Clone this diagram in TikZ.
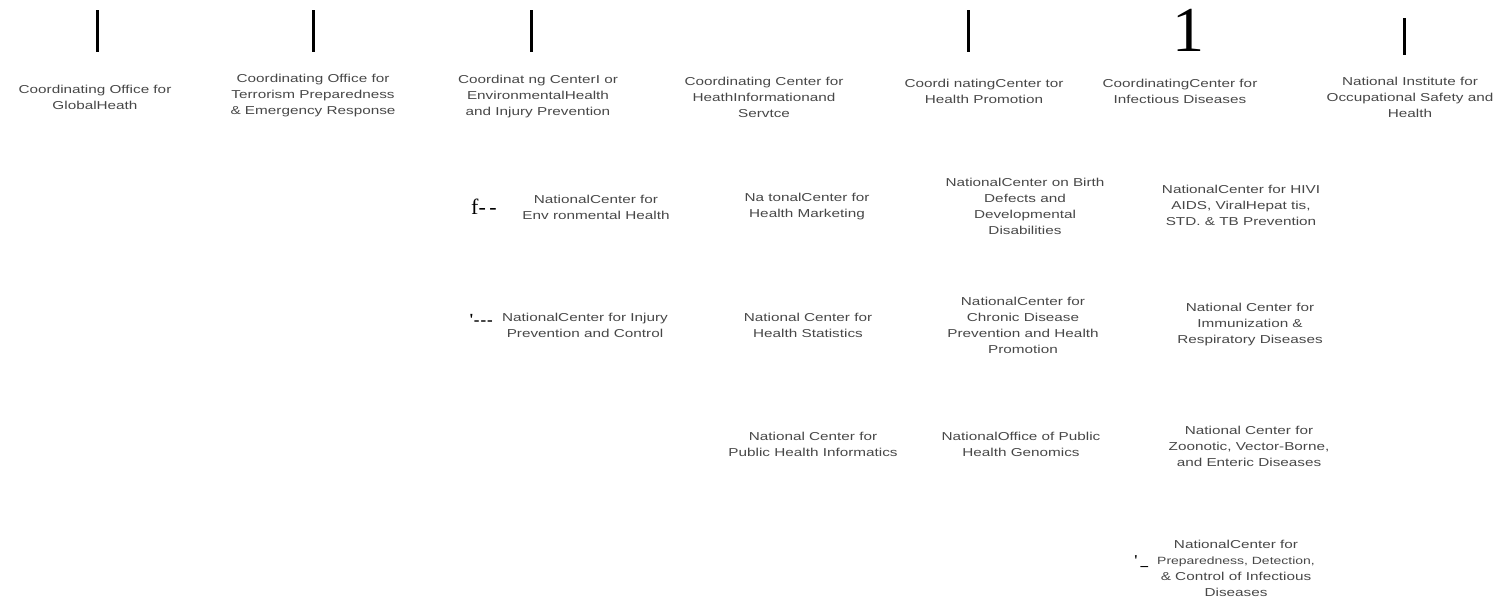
\documentclass[tikz,border=0pt]{standalone}
\usepackage{fontspec}
\newfontfamily\orgfont[FakeStretch=1.33]{Liberation Sans}
\newfontfamily\scanfont{Liberation Serif}

\begin{document}
\begin{tikzpicture}[x=1pt,y=-1pt,
    unit/.style={align=center,inner sep=0pt,text=black!72,
      font=\orgfont\fontsize{11.5}{16}\selectfont},
    bar/.style={fill=black,inner sep=0pt,minimum width=3pt},
    scan/.style={inner sep=0pt,font=\scanfont\fontsize{22}{22}\selectfont}]
  \useasboundingbox (0,0) rectangle (1495,599);
  \path
    (97,31) node[bar,minimum height=42pt] (bar1) {}
    (313,31) node[bar,minimum height=42pt] (bar2) {}
    (531,31) node[bar,minimum height=42pt] (bar3) {}
    (968,31) node[bar,minimum height=42pt] (bar4) {}
    (1188,30) node[scan,font=\scanfont\fontsize{64}{64}\selectfont] (bar5) {1}
    (1404,37) node[bar,minimum height=37pt] (bar6) {};
  \path
    (95,97) node[unit] (cogh) {Coordinating Office for\\GlobalHeath}
    (313,96) node[unit] (cotper) {Coordinating Office for\\Terrorism  Preparedness\\\& Emergency Response}
    (538,97) node[unit] (ccehip) {Coordinat ng CenterI or\\EnvironmentalHealth\\and  Injury Prevention}
    (764,97) node[unit] (cchis) {Coordinating Center for\\HeathInformationand\\Servtce}
    (984,91) node[unit] (cchp) {Coordi natingCenter tor\\Health Promotion}
    (1180,91) node[unit] (ccid) {CoordinatingCenter for\\Infectious Diseases}
    (1410,97) node[unit] (niosh) {National Institute for\\Occupational Safety and\\Health};
  \path
    (484,207) node[scan] (ehmark) {f-\,-}
    (596,207) node[unit] (nceh) {NationalCenter for\\Env  ronmental Health}
    (807,207) node[unit] (nchm) {Na tonalCenter for\\Health Marketing}
    (1025,206) node[unit] (ncbddd) {NationalCenter on Birth\\Defects and\\Developmental\\Disabilities}
    (1241,205) node[unit] (nchhstp) {NationalCenter for HIVI\\AIDS, ViralHepat tis,\\STD. \& TB  Prevention};
  \path
    (481,320) node[scan,font=\scanfont\bfseries\fontsize{17}{17}\selectfont] (ipmark) {'-\kern1pt-\kern1pt-}
    (585,325) node[unit] (ncipc) {NationalCenter for  Injury\\Prevention and Control}
    (808,325) node[unit] (nchs) {National Center for\\Health Statistics}
    (1023,325) node[unit] (nccdphp) {NationalCenter for\\Chronic Disease\\Prevention and Health\\Promotion}
    (1250,325) node[unit] (ncird) {National Center for\\Immunization \&\\Respiratory Diseases};
  \path
    (813,444) node[unit] (ncphi) {National Center for\\Public Health Informatics}
    (1021,444) node[unit] (nophg) {NationalOffice of  Public\\Health Genomics}
    (1249,446) node[unit] (nczved) {National Center for\\Zoonotic, Vector-Borne,\\and Enteric Diseases}
    (1141,562) node[scan,font=\scanfont\bfseries\fontsize{15}{15}\selectfont] (pdmark) {'\,\_}
    (1236,568) node[unit] (ncpdcid) {NationalCenter for\\{\orgfont\fontsize{10.5}{16}\selectfont Preparedness, Detection,}\\\& Control of  Infectious\\Diseases};
\end{tikzpicture}
\end{document}
